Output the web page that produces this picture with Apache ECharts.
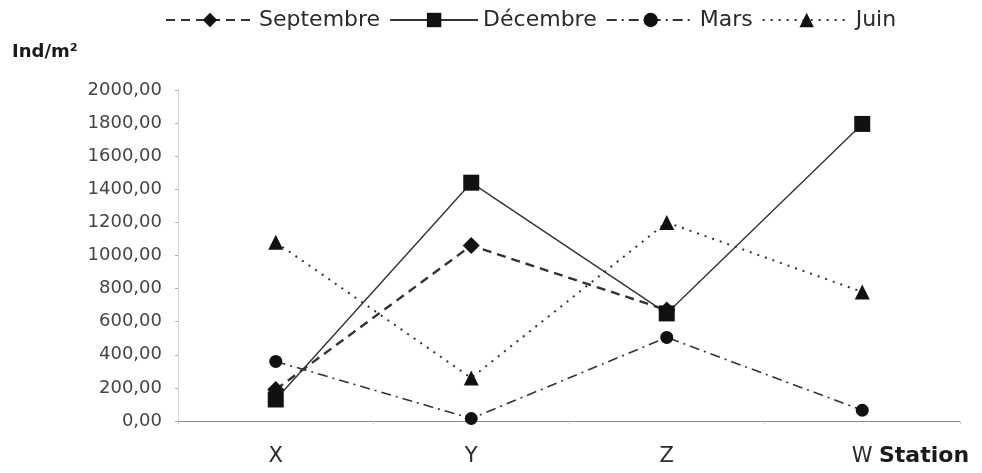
<!DOCTYPE html>
<html>
<head>
<meta charset="utf-8">
<script src="https://cdn.jsdelivr.net/npm/echarts@6/dist/echarts.min.js"></script>
<style>
  html, body { margin: 0; padding: 0; background: #ffffff; }
  #chart { width: 982px; height: 473px; }
</style>
</head>
<body>
<div id="chart"></div>
<script>
// Stations along the x axis
const stations = ['X', 'Y', 'Z', 'W'];

// Density (Ind/m²) per station for each sampling month
const septembre = [190, 1060, 670, null];
const decembre = [130, 1440, 650, 1795];
const mars = [360, 15, 505, 65];
const juin = [1080, 260, 1200, 780];

// Y axis range
const yMin = 0;
const yMax = 2000;
const yStep = 200;

const FONT = 'DejaVu Sans';
const INK = '#111111';
const LINE = '#333333';

function lineSeries(name, data, symbol, size, lineStyle) {
  return {
    name: name,
    type: 'line',
    data: data,
    symbol: symbol,
    symbolSize: size,
    connectNulls: false,
    itemStyle: { color: INK, borderWidth: 0 },
    lineStyle: Object.assign({ color: LINE }, lineStyle),
    emphasis: { disabled: true },
    animation: false
  };
}

const chart = echarts.init(document.getElementById('chart'), null, { renderer: 'canvas' });

chart.setOption({
  backgroundColor: '#ffffff',
  animation: false,
  textStyle: { fontFamily: FONT },
  legend: {
    left: 160,
    top: 4,
    itemWidth: 88,
    itemHeight: 18,
    itemGap: 9,
    textStyle: { fontFamily: FONT, fontSize: 22, color: '#2a2a2a' },
    data: ['Septembre', 'Décembre', 'Mars', 'Juin']
  },
  grid: { left: 178, right: 22, top: 90, bottom: 52, containLabel: false },
  xAxis: {
    type: 'category',
    data: stations,
    boundaryGap: true,
    axisLine: { show: true, lineStyle: { color: '#8a8a8a', width: 1.2 } },
    axisTick: { show: true, length: 3, lineStyle: { color: '#cccccc' } },
    axisLabel: { fontFamily: FONT, fontSize: 21, color: '#2a2a2a', margin: 25 },
    splitLine: { show: false }
  },
  yAxis: {
    type: 'value',
    min: yMin,
    max: yMax,
    interval: yStep,
    axisLine: { show: true, lineStyle: { color: '#dcd4dc', width: 1 } },
    axisTick: { show: true, length: 3, lineStyle: { color: '#aaaaaa' } },
    axisLabel: {
      fontFamily: FONT,
      fontSize: 18,
      color: '#444444',
      margin: 16,
      formatter: function (v) { return v.toFixed(2).replace('.', ','); }
    },
    splitLine: { show: false }
  },
  graphic: [
    {
      type: 'text',
      left: 12,
      top: 43,
      style: { text: 'Ind/m²', fontFamily: FONT, fontWeight: 'bold', fontSize: 18, fill: '#1a1a1a' }
    },
    {
      type: 'text',
      left: 879,
      top: 445,
      style: { text: 'Station', fontFamily: FONT, fontWeight: 'bold', fontSize: 22, fill: '#1a1a1a' }
    }
  ],
  series: [
    lineSeries('Septembre', septembre, 'diamond', 17, { width: 2.4, type: [9, 6] }),
    lineSeries('Décembre', decembre, 'rect', 16, { width: 1.4, type: 'solid' }),
    lineSeries('Mars', mars, 'circle', 13, { width: 1.6, type: [10, 5, 2, 5] }),
    lineSeries('Juin', juin, 'triangle', 15, { width: 2, type: [2, 6] })
  ]
});
</script>
</body>
</html>
